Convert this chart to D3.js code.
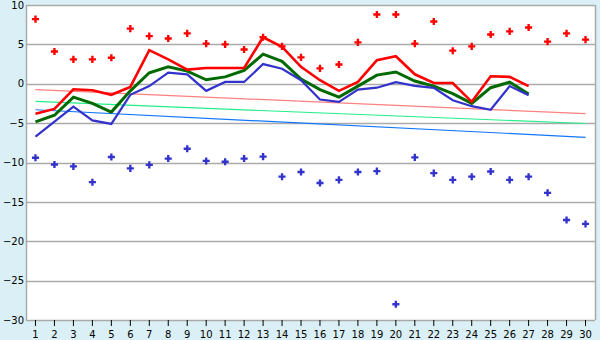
<!DOCTYPE html>
<html><head><meta charset="utf-8">
<script src="https://cdn.jsdelivr.net/npm/d3@7"></script>
<style>
html,body{margin:0;padding:0;background:#daf0f6;}
svg{display:block;}
text{font-family:"DejaVu Sans",sans-serif;font-size:10px;fill:#000;}
</style></head><body>
<svg id="c" width="600" height="340"></svg>
<script>
const days = d3.range(1, 31).map(String);
const yTicks = [10, 5, 0, -5, -10, -15, -20, -25, -30];
const maxMarks = [8.2,4.1,3.1,3.1,3.3,7.0,6.05,5.75,6.4,5.1,5.0,4.35,5.9,4.75,3.35,1.95,2.45,5.25,8.8,8.8,5.1,7.9,4.2,4.75,6.25,6.65,7.15,5.35,6.4,5.6];
const minMarks = [-9.4,-10.25,-10.5,-12.5,-9.3,-10.75,-10.3,-9.5,-8.25,-9.8,-9.9,-9.5,-9.25,-11.8,-11.2,-12.6,-12.2,-11.2,-11.1,-28.0,-9.35,-11.35,-12.2,-11.8,-11.15,-12.2,-11.8,-13.85,-17.3,-17.8];
const redLine = [-3.8,-3.2,-0.7,-0.83,-1.4,-0.4,4.27,3.1,1.8,2.0,2.0,2.0,5.9,4.7,2.15,0.45,-0.9,0.23,3.0,3.5,1.2,0.1,0.1,-2.3,0.95,0.87,-0.3];
const greenLine = [-4.85,-4.0,-1.7,-2.5,-3.6,-0.9,1.4,2.15,1.6,0.5,0.87,1.7,3.75,2.85,0.6,-0.75,-1.7,-0.3,1.1,1.5,0.35,-0.3,-1.25,-2.5,-0.5,0.2,-1.3];
const blueLine = [-6.7,-4.8,-2.9,-4.65,-5.1,-1.4,-0.3,1.4,1.2,-0.9,0.23,0.23,2.5,1.9,0.45,-2.0,-2.3,-0.75,-0.5,0.2,-0.27,-0.53,-2.1,-2.85,-3.3,-0.3,-1.45];
const redTrend = [{d:"1", v:-0.75}, {d:"30", v:-3.8}];
const greenTrend = [{d:"1", v:-2.25}, {d:"30", v:-5.05}];
const blueTrend = [{d:"1", v:-3.3}, {d:"30", v:-6.8}];

const svg = d3.select("#c");
const L = 26, R = 595, T = 5, B = 320;
const x = d3.scaleBand().domain(days).range([L, R]);
const cx = d => x(d) + x.bandwidth() / 2;
const y = d3.scaleLinear().domain([-30, 10]).range([B, T]);

svg.append("rect").attr("x", L).attr("y", T).attr("width", R - L).attr("height", B - T).attr("fill", "#fff");

// gridlines
svg.append("g").selectAll("line").data(yTicks).join("line")
  .attr("x1", L).attr("x2", R).attr("y1", d => Math.round(y(d)) + 0.5).attr("y2", d => Math.round(y(d)) + 0.5)
  .attr("stroke", "#aaa").attr("stroke-width", 1.3);

// y axis labels
const yAxis = d3.axisLeft(y).tickValues(yTicks).tickSize(0).tickPadding(0).tickFormat(d3.format("d"));
const gy = svg.append("g").attr("transform", `translate(${L - 2},0)`).call(yAxis);
gy.select(".domain").remove();
gy.selectAll("text").style("font-family", "DejaVu Sans").style("font-size", "10px");

// frame
svg.append("line").attr("x1", L + 0.5).attr("x2", L + 0.5).attr("y1", T).attr("y2", B).attr("stroke", "#aaa").attr("stroke-width", 1.5);
svg.append("line").attr("x1", R + 0.5).attr("x2", R + 0.5).attr("y1", T).attr("y2", B).attr("stroke", "#aaa").attr("stroke-width", 1.5);

// x axis
const xAxis = d3.axisBottom(x).tickSize(6).tickPadding(4.5);
const gx = svg.append("g").attr("transform", `translate(0,${B})`).call(xAxis);
gx.select(".domain").remove();
gx.selectAll("line").attr("stroke", "#000");
gx.selectAll("text").style("font-family", "DejaVu Sans").style("font-size", "10px");

// trend lines
const tl = d3.line().x(p => cx(p.d)).y(p => y(p.v));
[[redTrend, "#ff8080"], [greenTrend, "#22ee88"], [blueTrend, "#1177ff"]].forEach(([data, col]) => {
  svg.append("path").attr("d", tl(data)).attr("fill", "none").attr("stroke", col).attr("stroke-width", 1.2);
});

// series lines
const ln = d3.line().x((v, i) => cx(days[i])).y(v => y(v));
[[greenLine, "#006a00", 3], [blueLine, "#3333cc", 2.2], [redLine, "#ff0000", 2.6]].forEach(([data, col, w]) => {
  svg.append("path").attr("d", ln(data)).attr("fill", "none").attr("stroke", col).attr("stroke-width", w).attr("stroke-linejoin", "miter");
});

// markers
const sym = d3.symbol().type(d3.symbolCross).size(28);
[[maxMarks, "#ff0000"], [minMarks, "#3333cc"]].forEach(([data, col]) => {
  svg.append("g").selectAll("path").data(data).join("path")
    .attr("d", sym).attr("fill", col)
    .attr("transform", (v, i) => `translate(${cx(days[i])},${y(v)})`);
});
</script>
</body></html>
